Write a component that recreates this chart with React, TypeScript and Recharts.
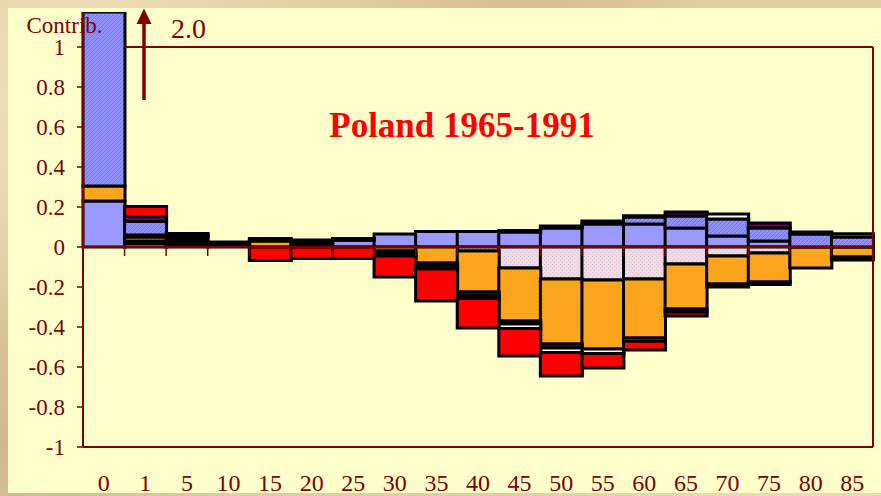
import React from "react";
import { BarChart, Bar, XAxis, YAxis, ReferenceLine } from "recharts";

const ages = ["0", "1", "5", "10", "15", "20", "25", "30", "35", "40", "45", "50", "55", "60", "65", "70", "75", "80", "85"];

// stack order (bottom → outward): lightBlue, pink, orange, black, hatchedBlue, purple, white, red
const lightBlue = [0.23, 0.018, 0, 0, 0, 0.008, 0.034, 0.065, 0.078, 0.078, 0.075, 0.095, 0.115, 0.115, 0.095, 0.055, 0.03, 0, 0];
const pink = [0, 0.012, 0, 0, 0, 0, 0, 0, 0, -0.02, -0.105, -0.16, -0.165, -0.16, -0.085, -0.045, -0.03, 0, 0];
const orange = [0.075, 0.02, 0, 0, 0.03, 0, 0, -0.02, -0.08, -0.205, -0.265, -0.325, -0.345, -0.295, -0.225, -0.14, -0.145, -0.105, -0.05];
const black = [0, 0.01, 0.055, 0.025, 0.013, 0.027, 0.009, -0.025, -0.012, 0, 0.008, 0.01, 0, 0, -0.015, -0.015, -0.012, 0, -0.015];
const hatchedBlue = [1.695, 0.067, 0, 0, 0, 0, 0, 0, 0, 0, 0, 0, 0.015, 0.035, 0.06, 0.085, 0.065, 0.065, 0.05];
const purple = [0, 0.025, 0, 0, 0, 0, 0, 0, -0.018, -0.02, -0.015, -0.02, 0, 0.006, 0.02, 0, 0.025, 0.01, 0];
const white = [0, 0, 0, 0, 0, 0, 0, 0, 0, -0.012, -0.022, -0.022, -0.022, -0.016, 0, 0.025, 0, 0, 0.016];
const red = [0, 0.05, 0.012, 0, -0.068, -0.058, -0.058, -0.105, -0.16, -0.148, -0.138, -0.118, -0.073, -0.044, -0.02, 0, 0, 0, 0];

const yTicks = [-1, -0.8, -0.6, -0.4, -0.2, 0, 0.2, 0.4, 0.6, 0.8, 1];
const boundaries = [1, 2, 3, 4, 5, 6, 7, 8, 9, 10, 11, 12, 13, 14, 15, 16, 17, 18, 19];

const rows = ages.map((age, i) => ({
  age,
  idx: i,
  lightBlue: lightBlue[i],
  pink: pink[i],
  orange: orange[i],
  black: black[i],
  hatchedBlue: hatchedBlue[i],
  purple: purple[i],
  white: white[i],
  red: red[i],
}));

const DARK = "#800000";
const SERIF = "'Liberation Serif', 'Times New Roman', serif";

const XTick = (props: any) => {
  const { x, y, payload } = props;
  return (
    <text x={x} y={y + 44} textAnchor="middle" fontSize={24} fill={DARK} fontFamily={SERIF}>
      {payload.value}
    </text>
  );
};

const series = [
  { key: "lightBlue", fill: "#9999FF" },
  { key: "pink", fill: "url(#pinkHatch)" },
  { key: "orange", fill: "url(#orangeTex)" },
  { key: "black", fill: "#000000" },
  { key: "hatchedBlue", fill: "url(#blueHatch)" },
  { key: "purple", fill: "#660066" },
  { key: "white", fill: "#FFFFFF" },
  { key: "red", fill: "#FF0000" },
];

export default function App() {
  return (
    <div
      style={{
        position: "fixed",
        left: 0,
        top: 0,
        width: 881,
        height: 496,
        overflow: "hidden",
        backgroundColor: "#E2CD9E",
        backgroundImage:
          "radial-gradient(circle at 10% 20%, rgba(250,240,215,0.6), transparent 30%), radial-gradient(circle at 60% 0%, rgba(200,175,130,0.5), transparent 25%), radial-gradient(circle at 90% 100%, rgba(245,230,200,0.6), transparent 30%), radial-gradient(circle at 0% 90%, rgba(190,165,120,0.5), transparent 25%)",
      }}
    >
      <svg width={0} height={0} style={{ position: "absolute" }}>
        <defs>
          <pattern id="blueHatch" width={4} height={4} patternUnits="userSpaceOnUse">
            <rect width={4} height={4} fill="#9090FF" />
            <path d="M0,4 L4,0 M-1,1 L1,-1 M3,5 L5,3" stroke="#7373F5" strokeWidth={1} />
          </pattern>
          <pattern id="pinkHatch" width={4} height={4} patternUnits="userSpaceOnUse">
            <rect width={4} height={4} fill="#EEDCE4" />
            <rect x={0} y={0} width={1} height={1} fill="#DCC2CF" />
            <rect x={2} y={2} width={1} height={1} fill="#DCC2CF" />
          </pattern>
          <pattern id="orangeTex" width={4} height={4} patternUnits="userSpaceOnUse">
            <rect width={4} height={4} fill="#FFA61F" />
            <rect x={1} y={1} width={1} height={1} fill="#F29A14" />
            <rect x={3} y={3} width={1} height={1} fill="#F29A14" />
          </pattern>
        </defs>
      </svg>
      <div
        style={{
          position: "absolute",
          left: 8,
          top: 8,
          width: 873,
          height: 485,
          background: "#FFFFCC",
        }}
      />
      <div style={{ position: "absolute", left: 8, top: 8, width: 873, height: 488 }}>
        <BarChart
          width={873}
          height={488}
          data={rows}
          stackOffset="sign"
          barCategoryGap={0}
          barGap={0}
          margin={{ top: 4, right: 8, bottom: 3, left: 0 }}
        >
          <XAxis dataKey="age" height={46} axisLine={false} tickLine={false} tickSize={0} tickMargin={0} tick={<XTick />} interval={0} />
          <XAxis xAxisId="n" dataKey="idx" type="number" domain={[0, 19]} allowDataOverflow hide />
          <YAxis
            domain={[-1, 1.175]}
            allowDataOverflow
            ticks={yTicks}
            interval={0}
            width={75}
            axisLine={{ stroke: DARK, strokeWidth: 2 }}
            tickLine={{ stroke: DARK, strokeWidth: 1.5 }}
            tickSize={6}
            tickMargin={12}
            tick={{ fill: DARK, fontSize: 23, fontFamily: SERIF }}
            tickFormatter={(v: number) => String(v)}
          />
          {series.map((s) => (
            <Bar
              key={s.key}
              dataKey={s.key}
              stackId="s"
              fill={s.fill}
              stroke="#000000"
              strokeWidth={3}
              isAnimationActive={false}
            />
          ))}
          <ReferenceLine y={0} stroke={DARK} strokeWidth={2} />
          <ReferenceLine xAxisId="n" segment={[{ x: 1, y: 1 }, { x: 19, y: 1 }]} stroke={DARK} strokeWidth={2} />
          <ReferenceLine xAxisId="n" segment={[{ x: 0, y: -1 }, { x: 19, y: -1 }]} stroke={DARK} strokeWidth={2} />
          <ReferenceLine xAxisId="n" segment={[{ x: 19, y: -1 }, { x: 19, y: 1 }]} stroke={DARK} strokeWidth={2} />
          {boundaries.map((b) => (
            <ReferenceLine
              key={"t" + b}
              xAxisId="n"
              segment={[{ x: b, y: 0 }, { x: b, y: -0.045 }]}
              stroke={DARK}
              strokeWidth={1.5}
            />
          ))}
        </BarChart>
        <svg
          width={873}
          height={485}
          style={{ position: "absolute", left: 0, top: 0, pointerEvents: "none" }}
        >
          <text x={18.5} y={24.5} fontSize={23} fill={DARK} fontFamily={SERIF}>
            Contrib.
          </text>
          <line x1={136} y1={92} x2={136} y2={14} stroke={DARK} strokeWidth={3.5} />
          <polygon points="128.5,16 136,0.5 143.5,16" fill={DARK} />
          <text x={163} y={30} fontSize={28} fill={DARK} fontFamily={SERIF}>
            2.0
          </text>
          <text x={454} y={129} textAnchor="middle" fontSize={35} fontWeight="bold" fill="#FF0000" fontFamily={SERIF}>
            Poland 1965-1991
          </text>
        </svg>
      </div>
    </div>
  );
}
